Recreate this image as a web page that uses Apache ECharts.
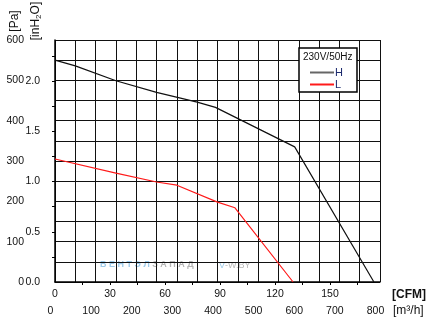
<!DOCTYPE html>
<html><head><meta charset="utf-8">
<script src="https://cdn.jsdelivr.net/npm/echarts@6/dist/echarts.min.js"></script>
<style>html,body{margin:0;padding:0;background:#fff}#c{width:437px;height:328px}</style>
</head><body><div id="c"></div>
<script>
// Data (flow in m3/h, pressure in Pa)
const curveH = [[0,550],[50,536],[150,499],[250,470],[350,446],[395,433],[590,335],[785,0]];
const curveL = [[0,305],[150,270],[250,248],[300,240],[400,198],[443,184],[586,0]];
const seriesNames = ['H','L'];
const m3hLabels = [0,100,200,300,400,500,600,700,800];
const cfmLabels = [0,30,60,90,120,150];
const cfmTicks = [15,30,45,60,75,90,105,120,135,150,165];
const paLabels = [0,100,200,300,400,500,600];
const inh2oLabels = [0,0.5,1,1.5,2];
const inh2oTicks = [0.25,0.5,0.75,1,1.25,1.5,1.75,2,2.25];

const FONT = 'Liberation Sans';
const chart = echarts.init(document.getElementById('c'));
const PA_PER_INH2O = 249.089;
chart.setOption({
  animation:false,
  grid:{left:55, top:40, right:57, bottom:46},
  textStyle:{fontFamily:FONT},
  legend:{data:[{name:seriesNames[0], icon:'rect', itemStyle:{color:'#666'}}, {name:seriesNames[1], icon:'rect'}],
    orient:'vertical', left:305, top:62, itemWidth:24, itemHeight:2, itemGap:1, z:20,
    textStyle:{fontSize:11, color:'#1c2a6e', fontFamily:FONT, lineHeight:10, padding:[0,0,0,-4]}},
  xAxis:[
    {type:'value', min:0, max:800, interval:50, position:'bottom',
     axisLine:{show:true, onZero:false, lineStyle:{color:'#000', width:1.5}},
     axisTick:{show:false},
     splitLine:{show:true, lineStyle:{color:'#111', width:1}},
     axisLabel:{customValues:m3hLabels, margin:24, fontSize:10.5, color:'#111', padding:[0,9,0,0], fontFamily:FONT}},
    {type:'value', min:0, max:177.27, position:'bottom',
     axisLine:{show:false}, splitLine:{show:false},
     axisTick:{show:true, customValues:cfmTicks, length:3, lineStyle:{color:'#000'}},
     axisLabel:{customValues:cfmLabels, margin:7, fontSize:10.5, color:'#111', fontFamily:FONT}}
  ],
  yAxis:[
    {type:'value', min:0, max:600, interval:50, position:'left',
     axisLine:{show:true, onZero:false, lineStyle:{color:'#000', width:1.5}},
     axisTick:{show:false},
     splitLine:{show:true, lineStyle:{color:'#111', width:1}},
     axisLabel:{customValues:paLabels, margin:31, fontSize:10.5, color:'#111', fontFamily:FONT}},
    {type:'value', min:0, max:600/PA_PER_INH2O, position:'left',
     axisLine:{show:false}, splitLine:{show:false},
     axisTick:{show:true, customValues:inh2oTicks, length:3, lineStyle:{color:'#000'}},
     axisLabel:{customValues:inh2oLabels, margin:15, fontSize:10.5, color:'#111', padding:[4,0,0,0], fontFamily:FONT,
       formatter:v=>v.toFixed(1)}}
  ],
  series:[
    {name:seriesNames[0], type:'line', data:curveH, symbol:'none', xAxisIndex:0, yAxisIndex:0,
     lineStyle:{color:'#111', width:1.2}, itemStyle:{color:'#111'}},
    {name:seriesNames[1], type:'line', data:curveL, symbol:'none', xAxisIndex:0, yAxisIndex:0,
     lineStyle:{color:'#ff1a1a', width:1.2}, itemStyle:{color:'#ff1a1a'}}
  ],
  graphic:[
    {type:'rect', shape:{x:299, y:48, width:58, height:44}, style:{fill:'#fff', stroke:'#000', lineWidth:1.5}, z:5},
    {type:'text', left:303, top:52, style:{text:'230V/50Hz', fontSize:10, fill:'#111', fontFamily:FONT}, z:6},
    {type:'text', x:15, y:21, rotation:Math.PI/2, style:{text:'[Pa]', fontSize:12, fill:'#111', fontFamily:FONT, align:'center', verticalAlign:'middle'}},
    {type:'text', x:36, y:21, rotation:Math.PI/2, style:{text:'{a|[inH}{s|2}{a|O]}', align:'center', verticalAlign:'middle',
       rich:{a:{fontSize:12, fill:'#111', fontFamily:FONT, lineHeight:14}, s:{fontSize:8, fill:'#111', fontFamily:FONT, lineHeight:14, verticalAlign:'bottom', padding:[6,0,0,0]}}}},
    {type:'text', left:392, top:289, style:{text:'[CFM]', fontSize:12, fontWeight:'bold', fill:'#111', fontFamily:FONT}},
    {type:'text', left:393, top:305, style:{text:'[m³/h]', fontSize:12, fill:'#111', fontFamily:FONT}},
    {type:'text', left:100, top:260, style:{text:'{b|В Е Н Т Э Л }{g|З А П А Д}', rich:{b:{fontSize:9, fontWeight:'bold', fill:'#9dcbea', fontFamily:FONT}, g:{fontSize:9, fontWeight:'bold', fill:'#b5b5b5', fontFamily:FONT}}}},
    {type:'text', left:219, top:261, style:{text:'{b|V}{g|-W.BY}', rich:{b:{fontSize:9, fill:'#9dcbea', fontFamily:FONT}, g:{fontSize:9, fill:'#b8b8b8', fontFamily:FONT}}}}
  ]
});
</script></body></html>
